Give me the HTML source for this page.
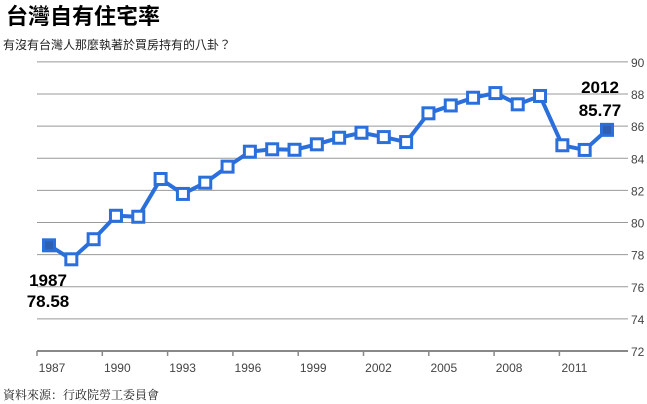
<!DOCTYPE html>
<html><head><meta charset="utf-8"><style>
body{margin:0;width:647px;height:404px;background:#fff;overflow:hidden;font-family:"Liberation Sans","Noto Sans CJK TC",sans-serif;}
svg{position:absolute;left:0;top:0}
</style></head><body>
<svg width="647" height="404">
<text x="6" y="24" font-size="22" font-weight="bold" fill="#000" font-family="Liberation Sans, Noto Sans CJK TC, sans-serif">台灣自有住宅率</text>
<text x="3" y="49" font-size="12" fill="#222" font-family="Liberation Sans, Noto Sans CJK TC, sans-serif">有沒有台灣人那麼執著於買房持有的八卦？</text>
<text x="3" y="399" font-size="12" fill="#222" font-family="Noto Serif CJK SC, serif">資料來源：行政院勞工委員會</text>
<g id="grid"></g><g id="xaxis"></g><g id="series"></g>
<text x="48" y="286" font-size="17" font-weight="bold" text-anchor="middle">1987</text>
<text x="48" y="307" font-size="17" font-weight="bold" text-anchor="middle">78.58</text>
<text x="600" y="93" font-size="17" font-weight="bold" text-anchor="middle">2012</text>
<text x="600" y="116" font-size="17" font-weight="bold" text-anchor="middle">85.77</text>
</svg>
<script>
const years=[1987,1988,1989,1990,1991,1992,1993,1994,1995,1996,1997,1998,1999,2000,2001,2002,2003,2004,2005,2006,2007,2008,2009,2010,2011,2012];
const values=[78.58,77.71,78.96,80.42,80.36,82.71,81.78,82.48,83.48,84.41,84.56,84.53,84.87,85.28,85.59,85.32,85.01,86.8,87.29,87.77,88.06,87.36,87.88,84.81,84.52,85.77];
const yTicks=[72,74,76,78,80,82,84,86,88,90];
const xTickLabels=["1987","1990","1993","1996","1999","2002","2005","2008","2011"];
const NS="http://www.w3.org/2000/svg";
function y(v){return 351-(v-72)*16.06;}
function x(i){return 49+i*22.32;}
function mk(t,a,p){const e=document.createElementNS(NS,t);for(const k in a)e.setAttribute(k,a[k]);p.appendChild(e);return e;}
const grid=document.getElementById('grid');
yTicks.forEach(v=>{
 const l=mk('line',{x1:37,x2:628,y1:y(v),y2:y(v),stroke:v===72?'#888':'#999','stroke-width':v===72?2:1},grid);
 
 
 const t=mk('text',{x:631,y:y(v)+5,'font-size':12,fill:'#444'},grid);t.textContent=v;
 
 
});
const xa=document.getElementById('xaxis');
xTickLabels.forEach((s,k)=>{
 const tx=37+k*65.3;
 const l=mk('line',{x1:tx,x2:tx,y1:351,y2:356,stroke:'#888','stroke-width':1.5},xa);
 
 
 const t=mk('text',{x:tx+15,y:372,'font-size':12,fill:'#444','text-anchor':'middle'},xa);t.textContent=s;
 
 
});
const sg=document.getElementById('series');
const path=mk('polyline',{points:values.map((v,i)=>x(i)+','+y(v)).join(' '),fill:'none',stroke:'#2a6fdc','stroke-width':4,'stroke-linejoin':'round'},sg);


values.forEach((v,i)=>{
 const end=i===0||i===values.length-1;
 const r=mk('rect',{x:x(i)-5.5,y:y(v)-5.5,width:11,height:11,fill:end?'#2f5fb0':'#fff',stroke:'#2a6fdc','stroke-width':3},sg);
 
 
});
</script>
</body></html>
